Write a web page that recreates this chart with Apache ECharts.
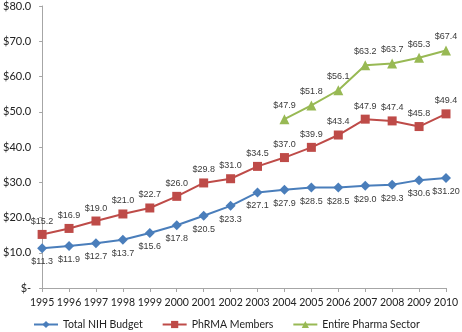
<!DOCTYPE html>
<html>
<head>
<meta charset="utf-8">
<style>
  html, body { margin: 0; padding: 0; background: #fff; }
  #chart { width: 462px; height: 332px; }
</style>
<script src="https://cdn.jsdelivr.net/npm/echarts@6/dist/echarts.min.js"></script>
</head>
<body>
<div id="chart"></div>
<script>
// 年份
const years = ['1995', '1996', '1997', '1998', '1999', '2000', '2001', '2002',
  '2003', '2004', '2005', '2006', '2007', '2008', '2009', '2010'];

// 各序列数值（十亿美元）
const nihBudget = [11.3, 11.9, 12.7, 13.7, 15.6, 17.8, 20.5, 23.3, 27.1, 27.9, 28.5, 28.5, 29.0, 29.3, 30.6, 31.2];
const phrmaMembers = [15.2, 16.9, 19.0, 21.0, 22.7, 26.0, 29.8, 31.0, 34.5, 37.0, 39.9, 43.4, 47.9, 47.4, 45.8, 49.4];
const pharmaSector = ['-', '-', '-', '-', '-', '-', '-', '-', '-', 47.9, 51.8, 56.1, 63.2, 63.7, 65.3, 67.4];

// 最后一个 NIH 标签原图写作 $31.20
const nihLabels = ['$11.3', '$11.9', '$12.7', '$13.7', '$15.6', '$17.8', '$20.5', '$23.3',
  '$27.1', '$27.9', '$28.5', '$28.5', '$29.0', '$29.3', '$30.6', '$31.20'];

const seriesNames = ['Total NIH Budget', 'PhRMA Members', 'Entire Pharma Sector'];

const axisFont = 'Lato, "Open Sans", sans-serif';
const labelFont = '"Liberation Sans", Arial, sans-serif';
const labelColor = '#3a3a3a';

const chart = echarts.init(document.getElementById('chart'));

const dollar = (v) => '$' + Number(v).toFixed(1);

const option = {
  animation: false,
  grid: { left: 37, right: 16, top: 6, bottom: 44 },
  legend: {
    data: seriesNames,
    top: 319,
    left: 33,
    itemWidth: 24,
    itemHeight: 9,
    itemGap: 19,
    padding: 0,
    textStyle: { fontFamily: axisFont, fontSize: 10.5, color: '#222' }
  },
  xAxis: {
    type: 'category',
    data: years,
    boundaryGap: false,
    axisLine: { lineStyle: { color: '#a6a6a6' } },
    axisTick: { alignWithLabel: true, interval: 0, length: 4, lineStyle: { color: '#a6a6a6' } },
    axisLabel: { interval: 0, fontFamily: axisFont, fontSize: 10.5, color: '#222', margin: 9 }
  },
  yAxis: {
    type: 'value',
    min: 0,
    max: 80,
    interval: 10,
    splitLine: { show: false },
    axisLine: { show: true, lineStyle: { color: '#a6a6a6' } },
    axisTick: { show: true, length: 3, lineStyle: { color: '#a6a6a6' } },
    axisLabel: {
      fontFamily: axisFont, fontSize: 11, color: '#222', margin: 11,
      formatter: (v) => v === 0 ? '$-' : dollar(v)
    }
  },
  series: [
    {
      name: seriesNames[0],
      type: 'line',
      data: nihBudget,
      symbol: 'diamond',
      symbolSize: 10,
      lineStyle: { width: 2, color: '#4a7ebb' },
      itemStyle: { color: '#4a7ebb' },
      label: {
        show: true,
        position: 'bottom',
        distance: 4,
        fontFamily: labelFont, fontSize: 9, color: labelColor,
        formatter: (p) => nihLabels[p.dataIndex]
      }
    },
    {
      name: seriesNames[1],
      type: 'line',
      data: phrmaMembers,
      symbol: 'rect',
      symbolSize: 9,
      lineStyle: { width: 2, color: '#be4b48' },
      itemStyle: { color: '#be4b48' },
      label: {
        show: true,
        position: 'top',
        distance: 4,
        fontFamily: labelFont, fontSize: 9, color: labelColor,
        formatter: (p) => dollar(p.value)
      }
    },
    {
      name: seriesNames[2],
      type: 'line',
      data: pharmaSector,
      symbol: 'triangle',
      symbolSize: 10,
      lineStyle: { width: 2, color: '#98b954' },
      itemStyle: { color: '#98b954' },
      label: {
        show: true,
        position: 'top',
        distance: 4,
        fontFamily: labelFont, fontSize: 9, color: labelColor,
        formatter: (p) => dollar(p.value)
      }
    }
  ]
};

chart.setOption(option);
</script>
</body>
</html>
